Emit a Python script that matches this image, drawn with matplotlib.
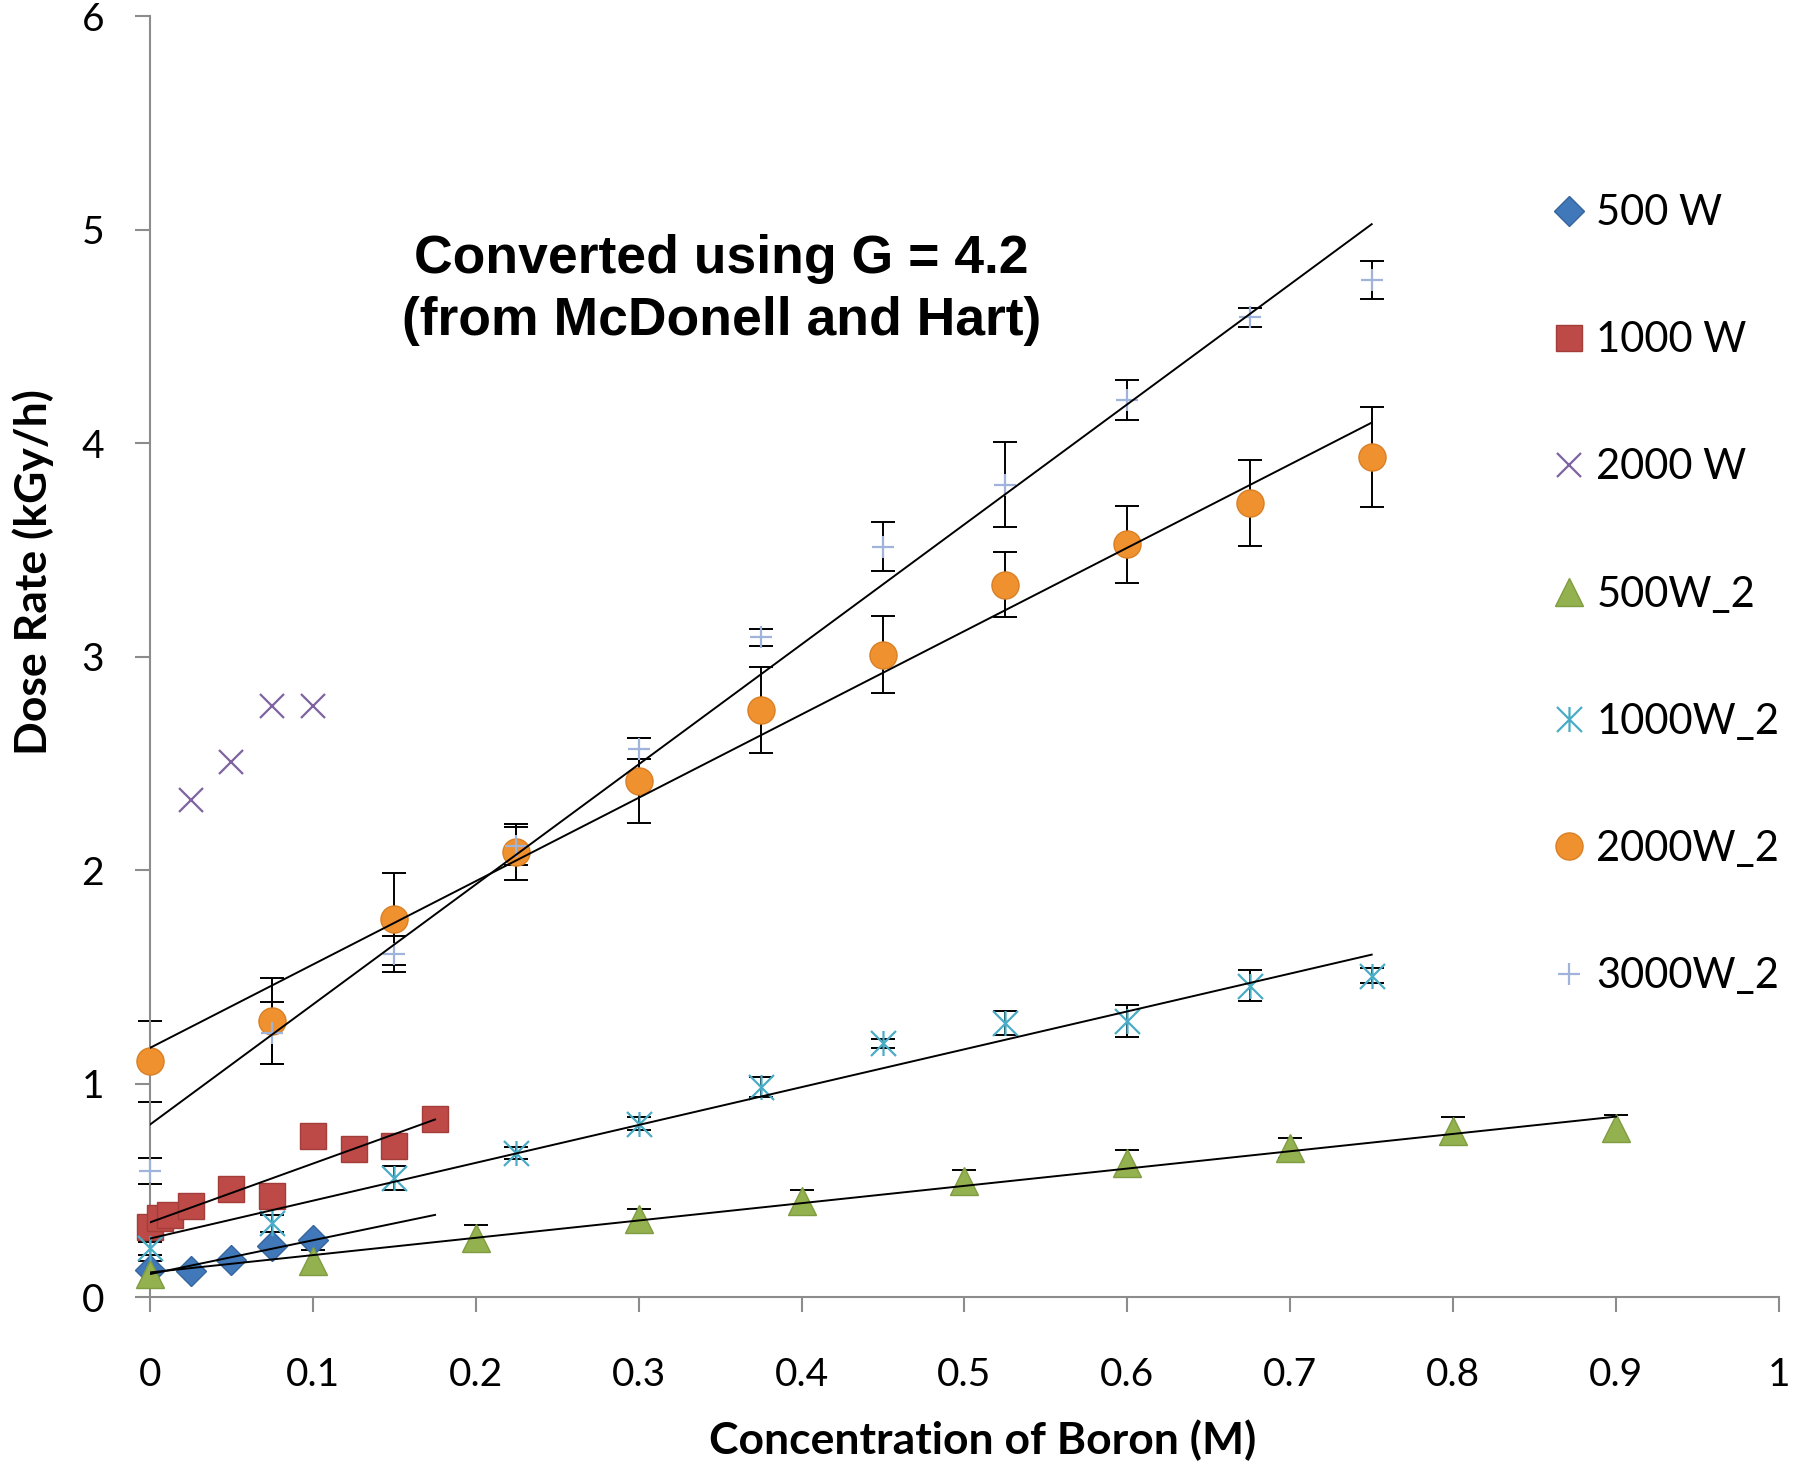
import numpy as np
import matplotlib.pyplot as plt
from matplotlib.path import Path

# Серии данных (концентрация бора, М -> мощность дозы, кГр/ч)
x_500 = [0, 0.025, 0.05, 0.075, 0.1]
y_500 = [0.13, 0.125, 0.175, 0.243, 0.269]

x_1000 = [0, 0.00625, 0.0125, 0.025, 0.05, 0.075, 0.1, 0.125, 0.15, 0.175]
y_1000 = [0.329, 0.371, 0.386, 0.430, 0.507, 0.473, 0.754, 0.695, 0.711, 0.836]

x_2000 = [0.025, 0.05, 0.075, 0.1]
y_2000 = [2.327, 2.507, 2.77, 2.77]

x_500_2 = [0, 0.1, 0.2, 0.3, 0.4, 0.5, 0.6, 0.7, 0.8, 0.9]
y_500_2 = [0.11, 0.17, 0.28, 0.366, 0.45, 0.543, 0.629, 0.70, 0.778, 0.792]
e_500_2 = [0.06, 0.05, 0.06, 0.05, 0.055, 0.055, 0.06, 0.045, 0.065, 0.06]

x_2 = [0, 0.075, 0.15, 0.225, 0.3, 0.375, 0.45, 0.525, 0.6, 0.675, 0.75]
y_1000_2 = [0.23, 0.347, 0.559, 0.676, 0.814, 0.986, 1.19, 1.283, 1.294, 1.459, 1.506]
e_1000_2 = [0.03, 0.04, 0.055, 0.027, 0.03, 0.047, 0.02, 0.056, 0.073, 0.073, 0.035]
y_2000_2 = [1.106, 1.294, 1.771, 2.085, 2.42, 2.75, 3.01, 3.338, 3.526, 3.72, 3.934]
e_2000_2 = [0.19, 0.2, 0.216, 0.13, 0.2, 0.2, 0.18, 0.15, 0.18, 0.2, 0.235]
y_3000_2 = [0.593, 1.239, 1.607, 2.113, 2.57, 3.09, 3.516, 3.806, 4.202, 4.59, 4.764]
e_3000_2 = [0.062, 0.145, 0.083, 0.09, 0.05, 0.04, 0.115, 0.2, 0.094, 0.045, 0.09]

x_ticks = [0, 0.1, 0.2, 0.3, 0.4, 0.5, 0.6, 0.7, 0.8, 0.9, 1]
y_ticks = [0, 1, 2, 3, 4, 5, 6]

# Звёздочка как в Excel: крест + вертикальная черта
asterisk = Path([(-1, -1), (1, 1), (-1, 1), (1, -1), (0, -1), (0, 1)],
                [Path.MOVETO, Path.LINETO] * 3)


def add_trend(ax, x, y, x_end):
    # Линейный тренд по методу наименьших квадратов
    k, b = np.polyfit(x, y, 1)
    xs = np.array([0, x_end])
    ax.plot(xs, k * xs + b, color='black', lw=1.4, zorder=5)


def main():
    plt.rcParams['font.family'] = ['Lato', 'DejaVu Sans']
    fig = plt.figure(figsize=(17.96, 14.69), dpi=100)
    ax = fig.add_axes([0.0835, 0.1168, 0.907, 0.8723])

    eb = dict(fmt='none', ecolor='black', elinewidth=1.4, capsize=8.5,
              capthick=1.4, zorder=2, clip_on=False)
    ax.errorbar(x_500_2, y_500_2, yerr=e_500_2, **eb)
    ax.errorbar(x_2, y_1000_2, yerr=e_1000_2, **eb)
    ax.errorbar(x_2, y_2000_2, yerr=e_2000_2, **eb)
    ax.errorbar(x_2, y_3000_2, yerr=e_3000_2, **eb)

    handles = []
    handles += ax.plot(x_500, y_500, 'D', ms=15, mfc='#4178B9', mec='#35659E', mew=1,
                       label='500 W', clip_on=False, zorder=3)
    handles += ax.plot(x_1000, y_1000, 's', ms=19, mfc='#BD4A47', mec='#A23D3A', mew=1,
                       label='1000 W', clip_on=False, zorder=3)
    handles += ax.plot(x_2000, y_2000, 'x', ms=17, mec='#7F63A1', mew=1.6,
                       label='2000 W', clip_on=False, zorder=3)
    handles += ax.plot(x_500_2, y_500_2, '^', ms=19.5, mfc='#93B24F', mec='#7F9C40', mew=1,
                       label='500W_2', clip_on=False, zorder=3)
    handles += ax.plot(x_2, y_1000_2, marker=asterisk, ls='none', ms=18, mfc='none',
                       mec='#4BACC6', mew=1.6, label='1000W_2', clip_on=False, zorder=3)
    handles += ax.plot(x_2, y_2000_2, 'o', ms=19.5, mfc='#F0912F', mec='#D97F24', mew=1,
                       label='2000W_2', clip_on=False, zorder=3)
    handles += ax.plot(x_2, y_3000_2, '+', ms=16.5, mec='#A0B4DB', mew=1.6,
                       label='3000W_2', clip_on=False, zorder=3)

    add_trend(ax, x_500, y_500, 0.175)
    add_trend(ax, x_1000, y_1000, 0.175)
    add_trend(ax, x_500_2, y_500_2, 0.9)
    add_trend(ax, x_2, y_1000_2, 0.75)
    add_trend(ax, x_2, y_2000_2, 0.75)
    add_trend(ax, x_2, y_3000_2, 0.75)

    ax.set_xlim(0, 1)
    ax.set_ylim(0, 6)
    ax.set_xticks(x_ticks)
    ax.set_xticklabels([f'{v:g}' for v in x_ticks])
    ax.set_yticks(y_ticks)
    ax.set_yticklabels([str(v) for v in y_ticks])
    for side in ['top', 'right']:
        ax.spines[side].set_visible(False)
    for side in ['left', 'bottom']:
        ax.spines[side].set_color('#8C8C8C')
        ax.spines[side].set_linewidth(1.5)
    ax.tick_params(axis='both', colors='#8C8C8C', width=1.5, length=11,
                   labelcolor='black', labelsize=28)
    ax.tick_params(axis='x', pad=32)
    ax.tick_params(axis='y', pad=22)

    ax.set_xlabel('Concentration of Boron (M)', fontsize=32, fontweight='bold')
    ax.set_ylabel('Dose Rate (kGy/h)', fontsize=32, fontweight='bold')
    ax.xaxis.set_label_coords(0.511, -0.095)
    ax.yaxis.set_label_coords(-0.059, 0.566)

    ax.text(0.351, 0.786, 'Converted using G = 4.2\n(from McDonell and Hart)',
            transform=ax.transAxes, ha='center', va='center', fontsize=38.5,
            fontweight='bold', family='Liberation Sans', linespacing=1.3)

    ax.legend(handles=handles, loc='upper left', bbox_to_anchor=(0.861, 0.861),
              frameon=False, fontsize=30, handlelength=0.8, handletextpad=0.25,
              labelspacing=2.14, borderpad=0, borderaxespad=0)

    fig.savefig('out.png', dpi=100, facecolor='white')


if __name__ == '__main__':
    main()
